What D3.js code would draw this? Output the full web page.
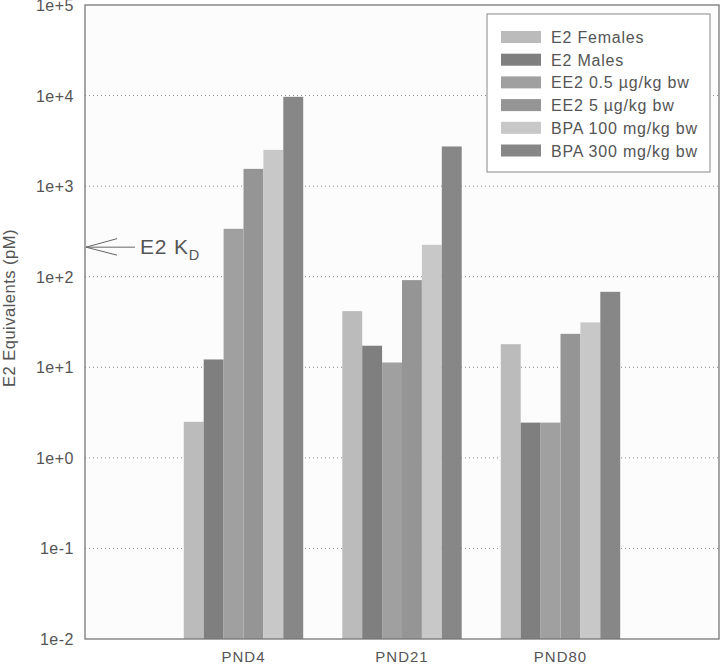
<!DOCTYPE html>
<html><head><meta charset="utf-8">
<script src="https://cdn.jsdelivr.net/npm/d3@7"></script>
<style>
body{margin:0;background:#fff;}
text{font-family:"Liberation Sans",Arial,sans-serif;}
</style></head>
<body><svg id="c" width="720" height="664"></svg>
<script>
const categories = ["PND4","PND21","PND80"];
const seriesNames = ["E2 Females","E2 Males","EE2 0.5 µg/kg bw","EE2 5 µg/kg bw","BPA 100 mg/kg bw","BPA 300 mg/kg bw"];
const seriesColors = ["#bbbbbb","#7f7f7f","#a0a0a0","#959595","#c8c8c8","#878787"];
const e2Females = [2.5, 41.7, 18.0];
const e2Males = [12.2, 17.3, 2.45];
const ee2Low = [338, 11.3, 2.45];
const ee2High = [1552, 91.7, 23.4];
const bpaLow = [2516, 225, 31.3];
const bpaHigh = [9680, 2742, 68.1];
const seriesValues = [e2Females, e2Males, ee2Low, ee2High, bpaLow, bpaHigh];
const yTicks = [1e5,1e4,1e3,1e2,1e1,1e0,1e-1,1e-2];
const yTickLabels = ["1e+5","1e+4","1e+3","1e+2","1e+1","1e+0","1e-1","1e-2"];
const kdValue = 212;

const svg = d3.select("#c");
const L=85, R=719, T=5, B=639;
const y = d3.scaleLog().domain([1e-2,1e5]).range([B,T]);
const x = d3.scaleLinear().domain([0,4]).range([L,R]);
const barW = 19.9;

svg.append("rect").attr("x",L).attr("y",T).attr("width",R-L).attr("height",B-T).attr("fill","#fcfcfc");

// gridlines
svg.append("g").selectAll("line").data(yTicks.slice(1,-1)).join("line")
  .attr("x1",L).attr("x2",R).attr("y1",d=>y(d)).attr("y2",d=>y(d))
  .attr("stroke","#888").attr("stroke-width",1).attr("stroke-dasharray","1,3");

// bars
const g = svg.append("g");
seriesValues.forEach((vals,s)=>{
  g.selectAll(null).data(vals).join("rect")
    .attr("x",(d,i)=>x(i+1) - 3*barW + s*barW)
    .attr("width",barW)
    .attr("y",d=>y(d))
    .attr("height",d=>B - y(d))
    .attr("fill",seriesColors[s]);
});

// frame
svg.append("rect").attr("x",L).attr("y",T).attr("width",R-L).attr("height",B-T)
  .attr("fill","none").attr("stroke","#777").attr("stroke-width",1.3);

// y tick labels
svg.append("g").selectAll("text").data(yTicks).join("text")
  .attr("x",74).attr("y",d=>y(d)+6).attr("text-anchor","end")
  .attr("font-size",16).attr("fill","#555").attr("letter-spacing",0.5)
  .text((d,i)=>yTickLabels[i]);

// x labels
svg.append("g").selectAll("text").data(categories).join("text")
  .attr("x",(d,i)=>x(i+1)).attr("y",662).attr("text-anchor","middle")
  .attr("font-size",15).attr("fill","#555").attr("letter-spacing",1)
  .text(d=>d);

// y title
svg.append("text").attr("transform","translate(15,308) rotate(-90)")
  .attr("text-anchor","middle").attr("font-size",16.5).attr("fill","#555").attr("letter-spacing",0.5)
  .text("E2 Equivalents (pM)");

// KD annotation
const ky = y(kdValue);
svg.append("path").attr("d",`M${L+1},${ky}L135,${ky}M${L+1},${ky}L117,${ky-8.5}M${L+1},${ky}L117,${ky+8}`)
  .attr("fill","none").attr("stroke","#666").attr("stroke-width",1);
const kt = svg.append("text").attr("x",140).attr("y",ky+7).attr("font-size",21).attr("fill","#555").attr("letter-spacing",0.8);
kt.append("tspan").text("E2 K");
kt.append("tspan").attr("font-size",14.5).attr("dy",6).text("D");

// legend
const lg = svg.append("g");
lg.append("rect").attr("x",487).attr("y",14).attr("width",223).attr("height",158)
  .attr("fill","#fff").attr("stroke","#888").attr("stroke-width",1);
seriesNames.forEach((n,i)=>{
  const cy = 37 + i*22.7;
  lg.append("rect").attr("x",501).attr("y",cy-6).attr("width",40).attr("height",12).attr("fill",seriesColors[i]);
  lg.append("text").attr("x",551).attr("y",cy+6).attr("font-size",16).attr("fill","#555").attr("letter-spacing",0.8).text(n);
});
</script></body></html>
